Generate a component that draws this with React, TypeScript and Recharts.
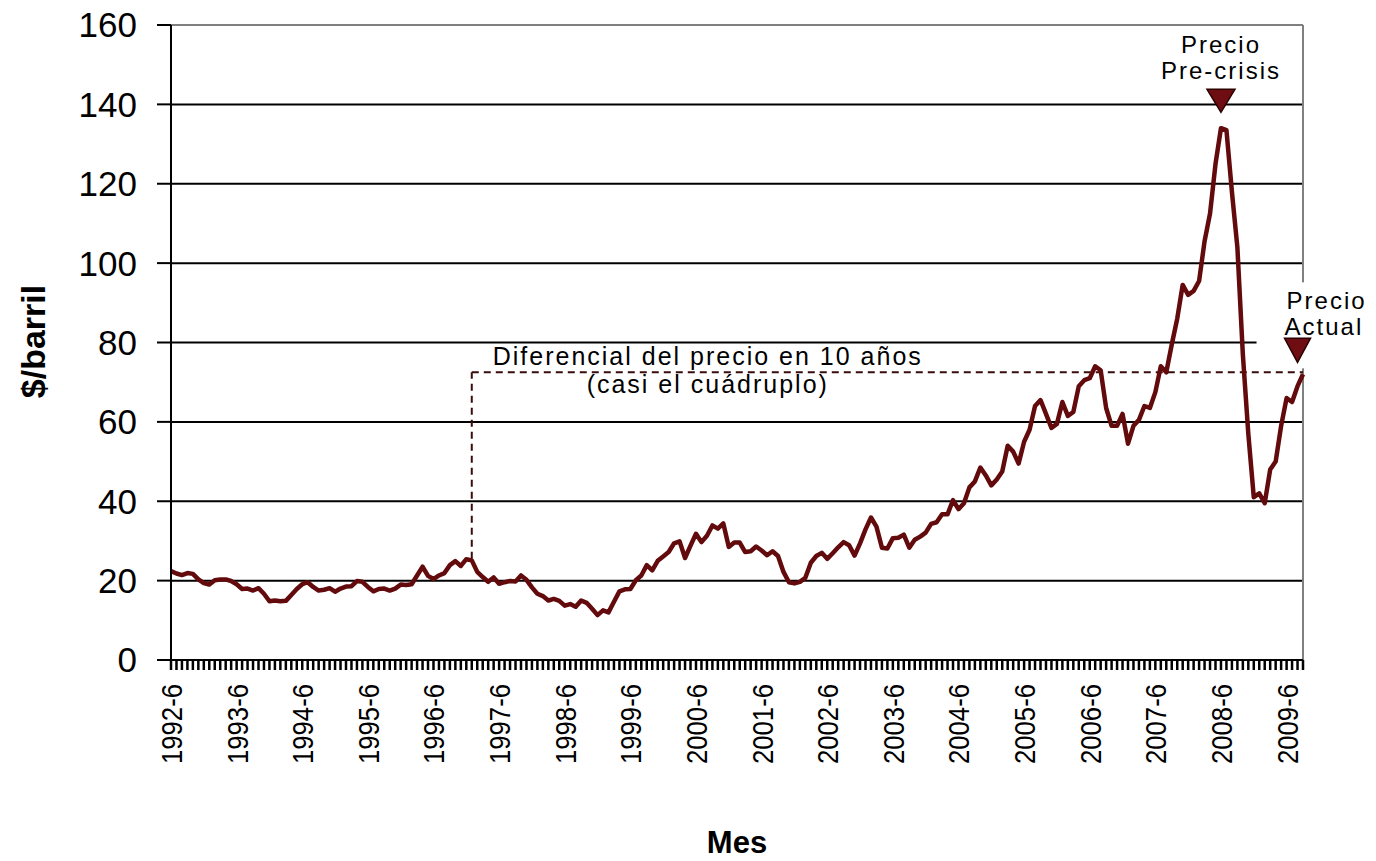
import React from "react";
import {
  LineChart,
  Line,
  XAxis,
  YAxis,
  CartesianGrid,
  ReferenceLine,
  ReferenceDot,
} from "recharts";

// monthly categories 1992-6 .. 2009-9
const months: string[] = [];
for (let y = 1992; y <= 2009; y++) {
  for (let m = 1; m <= 12; m++) {
    if ((y === 1992 && m < 6) || (y === 2009 && m > 9)) continue;
    months.push(`${y}-${m}`);
  }
}

// $/barril
const precios1992 = [22.4, 21.8, 21.4, 21.9, 21.7, 20.3, 19.4];
const precios1993 = [19.0, 20.1, 20.3, 20.3, 19.9, 19.1, 17.9, 18.0, 17.5, 18.1, 16.7, 14.8];
const precios1994 = [15.0, 14.8, 14.9, 16.4, 17.9, 19.1, 19.6, 18.4, 17.5, 17.7, 18.1, 17.2];
const precios1995 = [18.0, 18.5, 18.6, 19.9, 19.7, 18.4, 17.3, 17.9, 18.0, 17.5, 18.0, 19.0];
const precios1996 = [18.9, 19.1, 21.3, 23.5, 21.2, 20.4, 21.3, 21.9, 23.9, 24.9, 23.7, 25.4];
const precios1997 = [25.1, 22.2, 20.9, 19.7, 20.8, 19.2, 19.6, 19.9, 19.8, 21.3, 20.2, 18.3];
const precios1998 = [16.7, 16.1, 15.0, 15.4, 14.9, 13.7, 14.1, 13.4, 15.0, 14.4, 12.9, 11.3];
const precios1999 = [12.5, 12.0, 14.7, 17.3, 17.8, 17.9, 20.1, 21.3, 23.9, 22.6, 25.0, 26.1];
const precios2000 = [27.2, 29.4, 29.9, 25.7, 28.8, 31.8, 29.7, 31.3, 33.9, 33.1, 34.4, 28.5];
const precios2001 = [29.6, 29.6, 27.2, 27.4, 28.6, 27.6, 26.4, 27.4, 26.2, 22.2, 19.6, 19.3];
const precios2002 = [19.7, 20.7, 24.5, 26.2, 27.0, 25.5, 26.9, 28.4, 29.7, 28.9, 26.3, 29.4];
const precios2003 = [32.9, 35.9, 33.6, 28.3, 28.1, 30.7, 30.8, 31.6, 28.3, 30.3, 31.1, 32.1];
const precios2004 = [34.3, 34.7, 36.7, 36.7, 40.3, 38.0, 39.5, 43.5, 45.0, 48.5, 46.5, 44.0];
const precios2005 = [45.5, 47.5, 54.0, 52.5, 49.5, 55.0, 58.0, 64.0, 65.5, 62.0, 58.5, 59.5];
const precios2006 = [65.0, 61.5, 62.5, 69.0, 70.5, 71.0, 74.0, 73.0, 63.5, 59.0, 59.0, 62.0];
const precios2007 = [54.5, 59.0, 60.5, 64.0, 63.5, 67.5, 74.0, 72.5, 79.5, 86.0, 94.5, 92.0];
const precios2008 = [93.0, 95.5, 105.5, 112.5, 125.0, 134.0, 133.5, 118.0, 104.0, 77.0, 57.0, 41.0];
const precios2009 = [42.0, 39.5, 48.0, 50.0, 59.0, 66.0, 65.0, 69.0, 72.0];

const precios = [
  precios1992, precios1993, precios1994, precios1995, precios1996, precios1997,
  precios1998, precios1999, precios2000, precios2001, precios2002, precios2003,
  precios2004, precios2005, precios2006, precios2007, precios2008, precios2009,
].flat();

const yTicks = [0, 20, 40, 60, 80, 100, 120, 140, 160];
const gridValues = [20, 40, 60, 80, 100, 120, 140];

// annotation anchors
const diffStart = "1997-1";
const diffLevel = 72.5;
const diffBase = 25.5;
const lastMonth = months[months.length - 1];
const picoMonth = "2008-6";
const picoTip = 138;
const actualMonth = "2009-8";
const actualTip = 75;

const data = months.map((m, i) => ({ mes: m, precio: precios[i] }));

const LINE_COLOR = "#620a0c";
const FONT = "'Liberation Sans', Arial, sans-serif";

function MonthTick(props: any) {
  const { x, y, payload } = props;
  const label: string = payload.value;
  const show = label.endsWith("-6");
  const tx = x + 11;
  const ty = y + 24;
  return (
    <g>
      <line x1={x} x2={x} y1={y} y2={y + 10} stroke="#000" strokeWidth={2.5} />
      {show && (
        <text
          x={tx}
          y={ty}
          transform={`rotate(-90, ${tx}, ${ty})`}
          textAnchor="end"
          fontSize={30}
          textLength={80}
          lengthAdjust="spacingAndGlyphs"
          fontFamily={FONT}
          fill="#000"
        >
          {label}
        </text>
      )}
    </g>
  );
}

function PreCrisisMarker(props: any) {
  const { cx, cy } = props;
  return (
    <g fontFamily={FONT} fontSize={24} fill="#000" letterSpacing={2}>
      <text x={cx} y={cy - 59} textAnchor="middle">Precio</text>
      <text x={cx} y={cy - 33} textAnchor="middle">Pre-crisis</text>
      <path
        d={`M${cx - 14},${cy - 23} L${cx + 14},${cy - 23} L${cx},${cy} Z`}
        fill="#6e0d12"
        stroke="#2a0000"
        strokeWidth={1.5}
      />
    </g>
  );
}

function ActualMarker(props: any) {
  const { cx, cy } = props;
  return (
    <g fontFamily={FONT} fontSize={24} fill="#000" letterSpacing={2}>
      <rect x={cx - 41} y={cy - 80} width={120} height={86} fill="#fff" />
      <text x={cx - 11} y={cy - 53}>Precio</text>
      <text x={cx - 13} y={cy - 27}>Actual</text>
      <path
        d={`M${cx - 13},${cy - 24} L${cx + 13},${cy - 24} L${cx},${cy} Z`}
        fill="#6e0d12"
        stroke="#2a0000"
        strokeWidth={1.5}
      />
    </g>
  );
}

function DiffLabel(props: any) {
  const { cx, cy } = props;
  return (
    <g fontFamily={FONT} fontSize={25} fill="#000" letterSpacing={2}>
      <text x={cx + 236} y={cy - 7} textAnchor="middle">Diferencial del precio en 10 años</text>
      <text x={cx + 236} y={cy + 21} textAnchor="middle">(casi el cuádruplo)</text>
    </g>
  );
}

function YTitle(props: any) {
  const { viewBox } = props;
  const x = viewBox.x + 45;
  const y = viewBox.y + viewBox.height / 2 - 1;
  return (
    <text
      x={x}
      y={y}
      transform={`rotate(-90, ${x}, ${y})`}
      textAnchor="middle"
      fontSize={34}
      fontWeight="bold"
      fontFamily={FONT}
      fill="#000"
    >
      $/barril
    </text>
  );
}

function XTitle(props: any) {
  const { viewBox } = props;
  return (
    <text
      x={viewBox.x + viewBox.width / 2}
      y={viewBox.y + 193}
      textAnchor="middle"
      fontSize={31}
      fontWeight="bold"
      fontFamily={FONT}
      fill="#000"
    >
      Mes
    </text>
  );
}

export default function App() {
  return (
    <div style={{ position: "absolute", left: 0, top: 0, width: 1376, height: 861, background: "#fff" }}>
      <LineChart
        width={1376}
        height={861}
        data={data}
        margin={{ top: 25, right: 73, bottom: 0, left: 0 }}
        style={{ fontFamily: FONT }}
      >
        <CartesianGrid
          vertical={false}
          horizontalValues={gridValues}
          stroke="#000"
          strokeWidth={2}
        />
        <ReferenceLine y={160} stroke="#808080" strokeWidth={2} />
        <ReferenceLine x={lastMonth} stroke="#808080" strokeWidth={2} />
        <XAxis
          dataKey="mes"
          interval={0}
          height={201}
          tickSize={0}
          tickMargin={0}
          tickLine={false}
          axisLine={{ stroke: "#000", strokeWidth: 2 }}
          tick={<MonthTick />}
          label={XTitle}
        />
        <YAxis
          domain={[0, 160]}
          ticks={yTicks}
          width={171}
          tickSize={14}
          tickMargin={20}
          axisLine={{ stroke: "#000", strokeWidth: 2 }}
          tickLine={{ stroke: "#000", strokeWidth: 2 }}
          tick={{ fill: "#000", fontSize: 35, fontFamily: FONT }}
          label={YTitle}
        />
        <ReferenceLine
          segment={[
            { x: diffStart, y: diffBase },
            { x: diffStart, y: diffLevel },
          ]}
          stroke="#3a0d0d"
          strokeWidth={2}
          strokeDasharray="7 5"
        />
        <ReferenceLine
          segment={[
            { x: diffStart, y: diffLevel },
            { x: lastMonth, y: diffLevel },
          ]}
          stroke="#3a0d0d"
          strokeWidth={2}
          strokeDasharray="7 5"
        />
        <Line
          type="linear"
          dataKey="precio"
          stroke={LINE_COLOR}
          strokeWidth={4.5}
          strokeLinejoin="round"
          dot={false}
          activeDot={false}
          isAnimationActive={false}
        />
        <ReferenceDot x={diffStart} y={diffLevel} r={1} shape={DiffLabel} />
        <ReferenceDot x={picoMonth} y={picoTip} r={1} shape={PreCrisisMarker} />
        <ReferenceDot x={actualMonth} y={actualTip} r={1} shape={ActualMarker} />
      </LineChart>
    </div>
  );
}
